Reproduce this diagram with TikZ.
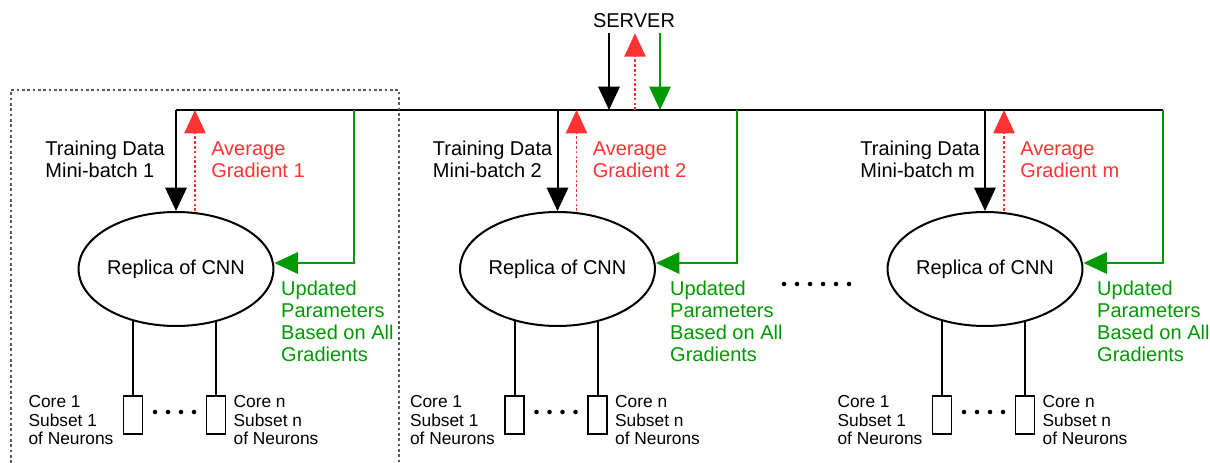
\documentclass[tikz,border=0pt]{standalone}
\usepackage{fontspec}
\setmainfont{Liberation Sans}
\usetikzlibrary{positioning,calc,arrows.meta,shapes.geometric}

\definecolor{gradred}{RGB}{255,51,51}
\definecolor{updgreen}{RGB}{0,153,0}

\begin{document}
\begin{tikzpicture}[
  x=0.75pt, y=-0.75pt,
  every node/.style={inner sep=0pt, font=\fontsize{15}{16.5}\selectfont},
  bigtip/.style={-{Triangle[width=16pt,length=17.5pt]}},
  wire/.style={line width=1.5pt},
  data/.style={wire, bigtip},
  grad/.style={gradred, line width=1.1pt, dash pattern=on 2pt off 1.6pt, bigtip},
  upd/.style={updgreen, line width=1.3pt, bigtip},
  replica/.style={draw, ellipse, line width=1.5pt, minimum width=144pt, minimum height=85.5pt},
  core/.style={draw, rectangle, line width=1.3pt, minimum width=14.25pt, minimum height=28.5pt},
  small/.style={font=\fontsize{13}{14}\selectfont, align=left},
  blob/.style={fill, circle, minimum size=3.4pt},
]
\useasboundingbox (0,0) rectangle (1210,463);

% server and the common bus
\node[inner ysep=3.75pt] (server) at (634,21) {SERVER};
\coordinate (sd) at (609,110);
\coordinate (sg) at (635,110);
\coordinate (su) at (660,110);
\coordinate (busl) at (176,110);
\coordinate (busr) at (1163,110);
\draw[wire] (busl) -- (busr);
\draw[data] (server.south -| sd) -- (sd);
\draw[grad] (sg) -- (server.south -| sg);
\draw[upd] (server.south -| su) -- (su);

% first worker
\draw[gray!70!black, line width=0.8pt, dash pattern=on 2pt off 2pt] (11,463) |- (399,90) -- (399,463);

\foreach \ux/\k/\tdx/\udx/\gx in {176/1/-11/6.5/178, 557.5/2/-5/14/179.5, 985/m/-5/13.5/178} {
  \node[replica] (rep\k) at (\ux,269) {Replica of CNN};
  \coordinate (dt\k) at (\ux,110);
  \coordinate (gt\k) at (\ux+19,110);
  \coordinate (ut\k) at (\ux+\gx,110);
  \draw[data] (dt\k) -- (rep\k.north);
  \draw[grad] ($(rep\k.north)+(19,0)$) -- (gt\k);
  \draw[upd] (ut\k) |- ($(rep\k.east)+(0,-6)$);
  \node[align=left, anchor=north east] at (\ux+\tdx,141) {Training Data\\Mini-batch \k};
  \node[gradred, align=left, anchor=north west] at (\ux+35,141) {Average\\Gradient \k};
  \node[updgreen, align=left, anchor=north west] at ($(rep\k.east)+(\udx,12)$) {Updated\\Parameters\\Based on All\\Gradients};
  % cores
  \node[core] (ca\k) at (\ux-43,415) {};
  \node[core] (cb\k) at (\ux+40,415) {};
  \draw[wire] (ca\k.north) -- (ca\k.north |- rep\k.230);
  \draw[wire] (cb\k.north) -- (cb\k.north |- rep\k.308);
  \node[small, below left=0pt and 6.75pt of ca\k.north west] {Core 1\\Subset 1\\of Neurons};
  \node[small, below right=0pt and 5.25pt of cb\k.north east] {Core n\\Subset n\\of Neurons};
  \foreach \d in {-19.5,-6.5,6.5,19.5}
    \node[blob] at (\ux-1.5+\d,412) {};
}

\foreach \d in {0,...,5}
  \node[blob] at (784+13*\d,284) {};

\end{tikzpicture}
\end{document}
